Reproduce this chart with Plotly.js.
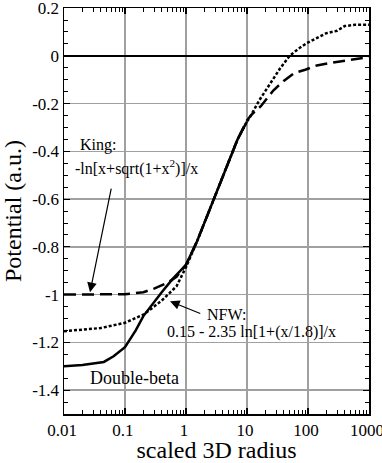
<!DOCTYPE html>
<html>
<head>
<meta charset="utf-8">
<script src="https://cdn.plot.ly/plotly-3.0.1.min.js"></script>
<style>
  html, body { margin: 0; padding: 0; background: #fff; }
  #chart { width: 382px; height: 463px; }
</style>
</head>
<body>
<div id="chart"></div>
<script>
// values
const radiusDoubleBeta = [0.01, 0.02, 0.045, 0.065, 0.1, 0.15, 0.2, 0.3, 0.4, 0.6, 1, 1.5, 2, 3, 5, 7, 10];
const potDoubleBeta = [-1.30, -1.295, -1.282, -1.258, -1.22, -1.15, -1.09, -1.03, -0.99, -0.935, -0.875, -0.78, -0.70, -0.585, -0.44, -0.35, -0.275];

const radiusKing = [0.01, 0.05, 0.1, 0.2, 0.3, 0.5, 0.7, 1, 1.5, 2, 3, 5, 7, 10, 12, 17, 27, 40, 60, 90, 140, 250, 500, 1000];
const potKing = [-1.0, -1.0, -0.998, -0.99, -0.975, -0.95, -0.925, -0.875, -0.78, -0.70, -0.585, -0.44, -0.35, -0.27, -0.245, -0.21, -0.145, -0.105, -0.072, -0.058, -0.04, -0.028, -0.017, -0.005];

const radiusNFW = [0.01, 0.02, 0.04, 0.1, 0.2, 0.3, 0.4, 0.7, 1, 1.5, 2, 3, 5, 7, 10, 11, 16, 24, 35, 50, 70, 95, 150, 200, 300, 400, 600, 1000];
const potNFW = [-1.153, -1.148, -1.14, -1.118, -1.084, -1.05, -1.025, -0.965, -0.885, -0.78, -0.70, -0.585, -0.44, -0.35, -0.275, -0.26, -0.185, -0.115, -0.052, 0.0, 0.03, 0.053, 0.08, 0.095, 0.105, 0.125, 0.13, 0.13];

const yTickVals = [0.2, 0, -0.2, -0.4, -0.6, -0.8, -1, -1.2, -1.4];
const yTickText = ['0.2', '0', '-0.2', '-0.4', '-0.6', '-0.8', '-1', '-1.2', '-1.4'];

const serif = 'Liberation Serif, Times New Roman, serif';

const traces = [
  {x: radiusDoubleBeta, y: potDoubleBeta, mode: 'lines', type: 'scatter',
   line: {color: '#000', width: 2.5}},
  {x: radiusKing, y: potKing, mode: 'lines', type: 'scatter',
   line: {color: '#000', width: 2.5, dash: '12px,6px'}},
  {x: radiusNFW, y: potNFW, mode: 'lines', type: 'scatter',
   line: {color: '#000', width: 2.5, dash: '3px,2px'}},
];

const axisCommon = {
  showline: true, linecolor: '#000', linewidth: 1.5, mirror: 'allticks',
  ticks: 'inside', ticklen: 6, tickwidth: 1.2, tickcolor: '#000',
  showgrid: true, gridcolor: '#a0a0a0', gridwidth: 1.5,
  ticklabeloverflow: 'allow',
  tickfont: {family: serif, size: 17, color: '#000'},
};

const layout = {
  width: 382, height: 463,
  margin: {l: 64, r: 13, t: 8, b: 49},
  paper_bgcolor: '#fff', plot_bgcolor: '#fff',
  showlegend: false,
  font: {family: serif, color: '#000'},
  xaxis: Object.assign({}, axisCommon, {
    type: 'log', range: [-2, 3.0005], tickmode: 'linear', tick0: 0, dtick: 1,
    exponentformat: 'none', zeroline: false, ticklabelshift: -2,
    minor: {dtick: 'D1', ticks: 'inside', ticklen: 4, tickcolor: '#000', tickwidth: 1},
    title: {text: 'scaled 3D radius', font: {family: serif, size: 24, color: '#000'}, standoff: 3},
  }),
  yaxis: Object.assign({}, axisCommon, {
    range: [-1.5, 0.2005], tickmode: 'array', tickvals: yTickVals, ticktext: yTickText,
    zeroline: true, zerolinecolor: '#000', zerolinewidth: 2,
    minor: {tickmode: 'linear', tick0: 0, dtick: 0.05, ticks: 'inside', ticklen: 4, tickcolor: '#000', tickwidth: 1},
    title: {text: 'Potential (a.u.)', font: {family: serif, size: 24, color: '#000'}, standoff: 6},
  }),
  annotations: [
    {xref: 'paper', yref: 'paper', x: 0.046, y: 0.663, xanchor: 'left', yanchor: 'middle',
     text: 'King:', showarrow: false, font: {size: 16}},
    {xref: 'paper', yref: 'paper', x: 0.028, y: 0.606, xanchor: 'left', yanchor: 'middle',
     text: '-ln[x+sqrt(1+x<sup>2</sup>)]/x', showarrow: false, font: {size: 16}},
    {xref: 'x', yref: 'y', x: Math.log10(0.0267), y: -0.99, ax: Math.log10(0.0635), ay: -0.52,
     axref: 'x', ayref: 'y', text: ' ', showarrow: true, arrowhead: 2, arrowsize: 1.6,
     arrowwidth: 1.2, arrowcolor: '#000'},
    {xref: 'paper', yref: 'paper', x: 0.462, y: 0.244, xanchor: 'left', yanchor: 'middle',
     text: 'NFW:', showarrow: false, font: {size: 16}},
    {xref: 'paper', yref: 'paper', x: 0.331, y: 0.203, xanchor: 'left', yanchor: 'middle',
     text: '0.15 - 2.35 ln[1+(x/1.8)]/x', showarrow: false, font: {size: 16}},
    {xref: 'x', yref: 'y', x: Math.log10(0.547), y: -1.028, ax: Math.log10(1.92), ay: -1.084,
     axref: 'x', ayref: 'y', text: ' ', showarrow: true, arrowhead: 2, arrowsize: 1.6,
     arrowwidth: 1.2, arrowcolor: '#000'},
    {xref: 'paper', yref: 'paper', x: 0.079, y: 0.089, xanchor: 'left', yanchor: 'middle',
     text: 'Double-beta', showarrow: false, font: {size: 18}},
  ],
};

Plotly.newPlot('chart', traces, layout, {staticPlot: true, displayModeBar: false});
</script>
</body>
</html>
